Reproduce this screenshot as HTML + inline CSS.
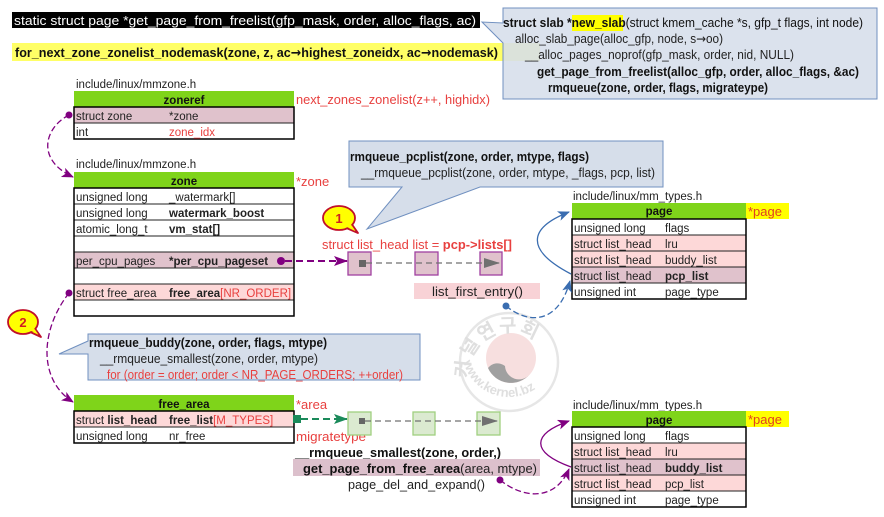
<!DOCTYPE html>
<html><head><meta charset="utf-8">
<style>
html,body{margin:0;padding:0;background:#fff;}
svg{display:block;font-family:"Liberation Sans","Noto Sans CJK KR",sans-serif;}
</style></head>
<body>
<svg width="884" height="517" viewBox="0 0 884 517" xmlns="http://www.w3.org/2000/svg">
<defs>
<marker id="ap" markerWidth="12" markerHeight="10" refX="11" refY="5" orient="auto" markerUnits="userSpaceOnUse"><path d="M0,0 L12,5 L0,10 L3,5 Z" fill="#800080"/></marker>
<marker id="ab" markerWidth="12" markerHeight="10" refX="11" refY="5" orient="auto" markerUnits="userSpaceOnUse"><path d="M0,0 L12,5 L0,10 L3,5 Z" fill="#3a6db0"/></marker>
<marker id="ag" markerWidth="14" markerHeight="10" refX="13" refY="5" orient="auto" markerUnits="userSpaceOnUse"><path d="M0,0 L14,5 L0,10 L3,5 Z" fill="#1a8a5a"/></marker>
<marker id="ay" markerWidth="16" markerHeight="10" refX="15" refY="5" orient="auto" markerUnits="userSpaceOnUse"><path d="M0,0 L16,5 L0,10 Z" fill="#707070"/></marker>
<marker id="ap2" markerWidth="14" markerHeight="10" refX="13" refY="5" orient="auto" markerUnits="userSpaceOnUse"><path d="M0,0 L14,5 L0,10 L3,5 Z" fill="#800080"/></marker>
<path id="wmTop" d="M 470,382 A 41 41 0 1 1 550,382"/>
<path id="wmBot" d="M 462,350 A 47 47 0 0 0 556,350"/>
</defs>

<!-- watermark -->
<g opacity="0.5">
<circle cx="509" cy="362" r="49" fill="none" stroke="#cfcfcf" stroke-width="2.5"/>
<circle cx="511" cy="358" r="25" fill="#f0c0c0"/>
<path d="M488,368 A25,25 0 0 0 530,374 A14,14 0 0 1 505,366 A12,12 0 0 0 488,368 Z" fill="#444"/>
<text font-size="19" font-weight="bold" fill="#c0c0c0" letter-spacing="2"><textPath href="#wmTop" startOffset="4">커널연구회</textPath></text>
<text font-size="13" font-weight="bold" fill="#c0c0c0"><textPath href="#wmBot" startOffset="12">www.kernel.bz</textPath></text>
</g>

<!-- top black bar -->
<rect x="12" y="12" width="468" height="16" fill="#000"/>
<text x="14" y="25" font-size="13" fill="#fff" textLength="462" lengthAdjust="spacingAndGlyphs">static struct page *get_page_from_freelist(gfp_mask, order, alloc_flags, ac)</text>

<!-- yellow bar -->
<rect x="12" y="43" width="528" height="18" fill="#ffff66"/>
<text x="15" y="57" font-size="13" font-weight="bold" fill="#111" textLength="483" lengthAdjust="spacingAndGlyphs">for_next_zone_zonelist_nodemask(zone, z, ac<tspan font-family="DejaVu Sans">→</tspan>highest_zoneidx, ac<tspan font-family="DejaVu Sans">→</tspan>nodemask)</text>

<!-- top-right callout -->
<path d="M503,8 H877 V99 H503 V43 L482,22 L503,23 Z" fill="#d6deea" fill-opacity="0.88" stroke="#7090c0" stroke-width="1"/>
<rect x="572" y="15" width="51" height="16" fill="#ffff00"/>
<text x="503" y="27" font-size="12.5" fill="#111" textLength="360" lengthAdjust="spacingAndGlyphs"><tspan font-weight="bold">struct slab *new_slab</tspan>(struct kmem_cache *s, gfp_t flags, int node)</text>
<text x="515" y="43" font-size="12.5" fill="#222" textLength="208" lengthAdjust="spacingAndGlyphs">alloc_slab_page(alloc_gfp, node, s<tspan font-family="DejaVu Sans">→</tspan>oo)</text>
<text x="525" y="59" font-size="12.5" fill="#222" textLength="269" lengthAdjust="spacingAndGlyphs">__alloc_pages_noprof(gfp_mask, order, nid, NULL)</text>
<text x="537" y="76" font-size="12.5" font-weight="bold" fill="#111" textLength="322" lengthAdjust="spacingAndGlyphs">get_page_from_freelist(alloc_gfp, order, alloc_flags, &amp;ac)</text>
<text x="548" y="92" font-size="12.5" font-weight="bold" fill="#111" textLength="220" lengthAdjust="spacingAndGlyphs">rmqueue(zone, order, flags, migrateype)</text>

<!-- zoneref table -->
<text x="76" y="88" font-size="11.5" fill="#222">include/linux/mmzone.h</text>
<rect x="74" y="91" width="220" height="16" fill="#7fd41a"/>
<text x="184" y="104" font-size="11.5" font-weight="bold" fill="#111" text-anchor="middle">zoneref</text>
<rect x="74" y="107" width="220" height="16" fill="#e0c2cc" stroke="#222" stroke-width="1"/>
<rect x="74" y="123" width="220" height="16" fill="#fff" stroke="#222" stroke-width="1"/>
<rect x="74" y="107" width="220" height="32" fill="none" stroke="#000" stroke-width="1.5"/>
<text x="76" y="120" font-size="11.5" fill="#222">struct zone</text><text x="169" y="120" font-size="11.5" fill="#222">*zone</text>
<text x="76" y="136" font-size="11.5" fill="#222">int</text><text x="169" y="136" font-size="11.5" fill="#e8403f">zone_idx</text>
<text x="296" y="104" font-size="12.5" fill="#e8403f" textLength="194" lengthAdjust="spacingAndGlyphs">next_zones_zonelist(z++, highidx)</text>

<!-- zone table -->
<text x="76" y="168" font-size="11.5" fill="#222">include/linux/mmzone.h</text>
<rect x="74" y="172" width="220" height="16" fill="#7fd41a"/>
<text x="184" y="185" font-size="11.5" font-weight="bold" fill="#111" text-anchor="middle">zone</text>
<text x="296" y="186" font-size="13" fill="#e8403f">*zone</text>
<rect x="74" y="188" width="220" height="16" fill="#fff" stroke="#222"/>
<rect x="74" y="204" width="220" height="16" fill="#fff" stroke="#222"/>
<rect x="74" y="220" width="220" height="16" fill="#fff" stroke="#222"/>
<rect x="74" y="236" width="220" height="16" fill="#fff" stroke="#222"/>
<rect x="74" y="252" width="220" height="16" fill="#e0c2cc" stroke="#222"/>
<rect x="74" y="268" width="220" height="16" fill="#fff" stroke="#222"/>
<rect x="74" y="284" width="220" height="16" fill="#fdd8d8" stroke="#222"/>
<rect x="74" y="300" width="220" height="16" fill="#fff" stroke="#222"/>
<rect x="74" y="188" width="220" height="128" fill="none" stroke="#000" stroke-width="1.5"/>
<g font-size="11.5" fill="#222">
<text x="76" y="201">unsigned long</text><text x="169" y="201">_watermark[]</text>
<text x="76" y="217">unsigned long</text><text x="169" y="217" font-weight="bold">watermark_boost</text>
<text x="76" y="233">atomic_long_t</text><text x="169" y="233" font-weight="bold">vm_stat[]</text>
<text x="76" y="265">per_cpu_pages</text><text x="169" y="265" font-weight="bold">*per_cpu_pageset</text>
<text x="76" y="297">struct free_area</text><text x="169" y="297"><tspan font-weight="bold">free_area</tspan><tspan fill="#e8403f">[NR_ORDER]</tspan></text>
</g>

<!-- zoneref -> zone connector -->
<circle cx="69" cy="115" r="3.5" fill="#800080"/>
<path d="M69,115 C44,128 36,160 73,177" fill="none" stroke="#800080" stroke-width="1.3" stroke-dasharray="6,3" marker-end="url(#ap)"/>
<!-- free_area connector -->
<circle cx="69" cy="293" r="3.5" fill="#800080"/>
<path d="M69,293 C40,330 38,380 73,402" fill="none" stroke="#800080" stroke-width="1.3" stroke-dasharray="6,3" marker-end="url(#ap)"/>

<!-- callout 2 -->
<path d="M28,331 L41,337 L34,327 Z" fill="#ffff00" stroke="#c0102a" stroke-width="1.8" stroke-linejoin="round"/>
<ellipse cx="23" cy="322" rx="15" ry="12" fill="#ffff00" stroke="#c0102a" stroke-width="1.8"/>
<path d="M29,330 L38,334 L33,327 Z" fill="#ffff00"/>
<text x="23" y="327" font-size="13" font-weight="bold" fill="#d02020" text-anchor="middle">2</text>

<!-- callout 1 -->
<path d="M344,227 L358,233 L351,223 Z" fill="#ffff00" stroke="#c0102a" stroke-width="1.8" stroke-linejoin="round"/>
<ellipse cx="339" cy="218" rx="16" ry="12" fill="#ffff00" stroke="#c0102a" stroke-width="1.8"/>
<path d="M345,226 L355,231 L350,223 Z" fill="#ffff00"/>
<text x="339" y="223" font-size="13" font-weight="bold" fill="#d02020" text-anchor="middle">1</text>

<!-- pcplist callout -->
<path d="M349,141 H663 V187 H480 L367,229 L402,187 H349 Z" fill="#d6deea" stroke="#7090c0" stroke-width="1"/>
<text x="350" y="161" font-size="12.5" font-weight="bold" fill="#111" textLength="239" lengthAdjust="spacingAndGlyphs">rmqueue_pcplist(zone, order, mtype, flags)</text>
<text x="361" y="177" font-size="12.5" fill="#222" textLength="294" lengthAdjust="spacingAndGlyphs">__rmqueue_pcplist(zone, order, mtype, _flags, pcp, list)</text>

<!-- list head -->
<text x="322" y="249" font-size="12.5" fill="#e8403f" textLength="190" lengthAdjust="spacingAndGlyphs">struct list_head list = <tspan font-weight="bold">pcp-&gt;lists[]</tspan></text>
<rect x="348" y="252" width="23" height="23" fill="#e0c2cc" stroke="#a040a0" stroke-width="1.3"/>
<rect x="415" y="252" width="23" height="23" fill="#e0c2cc" stroke="#a040a0" stroke-width="1.3"/>
<rect x="480" y="252" width="22" height="23" fill="#e0c2cc" stroke="#a040a0" stroke-width="1.3"/>
<rect x="359" y="260" width="7" height="7" fill="#666"/>
<path d="M366,263 H499" stroke="#707070" stroke-width="1.3" stroke-dasharray="6,4" marker-end="url(#ay)"/>
<circle cx="281" cy="261" r="4" fill="#800080"/>
<path d="M285,261 H347" stroke="#800080" stroke-width="2" stroke-dasharray="7,4" marker-end="url(#ap2)"/>

<rect x="414" y="283" width="126" height="16" fill="#f8d2d6"/>
<text x="432" y="296" font-size="12.5" fill="#222" textLength="91" lengthAdjust="spacingAndGlyphs">list_first_entry()</text>

<!-- page table top -->
<text x="573" y="200" font-size="11.5" fill="#222">include/linux/mm_types.h</text>
<rect x="572" y="203" width="174" height="16" fill="#7fd41a"/>
<text x="659" y="215" font-size="11.5" font-weight="bold" fill="#111" text-anchor="middle">page</text>
<rect x="746" y="203" width="43" height="16" fill="#ffff00"/>
<text x="748" y="216" font-size="13" fill="#e04020">*page</text>
<rect x="572" y="219" width="174" height="16" fill="#fff" stroke="#222"/>
<rect x="572" y="235" width="174" height="16" fill="#fdd8d8" stroke="#222"/>
<rect x="572" y="251" width="174" height="16" fill="#fdd8d8" stroke="#222"/>
<rect x="572" y="267" width="174" height="16" fill="#e0c2cc" stroke="#222"/>
<rect x="572" y="283" width="174" height="16" fill="#fff" stroke="#222"/>
<rect x="572" y="219" width="174" height="80" fill="none" stroke="#000" stroke-width="1.5"/>
<g font-size="11.5" fill="#222">
<text x="574" y="232">unsigned long</text><text x="665" y="232">flags</text>
<text x="574" y="248">struct list_head</text><text x="665" y="248">lru</text>
<text x="574" y="264">struct list_head</text><text x="665" y="264">buddy_list</text>
<text x="574" y="280">struct list_head</text><text x="665" y="280" font-weight="bold">pcp_list</text>
<text x="574" y="296">unsigned int</text><text x="665" y="296">page_type</text>
</g>

<!-- blue connectors -->
<path d="M571,274 C525,250 528,228 569,212" fill="none" stroke="#3a6db0" stroke-width="1.3" marker-end="url(#ab)"/>
<circle cx="506" cy="306" r="3.5" fill="#3a6db0"/>
<path d="M506,306 C528,324 558,325 570,281" fill="none" stroke="#3a6db0" stroke-width="1.3" stroke-dasharray="6,3" marker-end="url(#ab)"/>

<!-- buddy callout -->
<path d="M88,334 H420 V380 H88 V354 L59,354 L88,341 Z" fill="#d6deea" stroke="#7090c0" stroke-width="1"/>
<text x="89" y="347" font-size="12.5" font-weight="bold" fill="#111" textLength="238" lengthAdjust="spacingAndGlyphs">rmqueue_buddy(zone, order, flags, mtype)</text>
<text x="100" y="363" font-size="12.5" fill="#222" textLength="218" lengthAdjust="spacingAndGlyphs">__rmqueue_smallest(zone, order, mtype)</text>
<text x="107" y="379" font-size="12.5" fill="#e8403f" textLength="296" lengthAdjust="spacingAndGlyphs">for (order = order; order &lt; NR_PAGE_ORDERS; ++order)</text>

<!-- free_area table -->
<rect x="74" y="395" width="220" height="16" fill="#7fd41a"/>
<text x="184" y="408" font-size="11.5" font-weight="bold" fill="#111" text-anchor="middle">free_area</text>
<rect x="74" y="411" width="220" height="16" fill="#fdd8d8" stroke="#222"/>
<rect x="74" y="427" width="220" height="16" fill="#fff" stroke="#222"/>
<rect x="74" y="411" width="220" height="32" fill="none" stroke="#000" stroke-width="1.5"/>
<g font-size="11.5" fill="#222">
<text x="76" y="424">struct <tspan font-weight="bold">list_head</tspan></text><text x="169" y="424"><tspan font-weight="bold">free_list</tspan><tspan fill="#e8403f">[M_TYPES]</tspan></text>
<text x="76" y="440">unsigned long</text><text x="169" y="440">nr_free</text>
</g>
<text x="296" y="409" font-size="13" fill="#e8403f">*area</text>
<text x="296" y="441" font-size="12.5" fill="#e8403f" textLength="70" lengthAdjust="spacingAndGlyphs">migratetype</text>

<!-- green list -->
<rect x="293" y="415" width="8" height="8" fill="#1a8a5a"/>
<path d="M301,419 H347" stroke="#1a8a5a" stroke-width="2" stroke-dasharray="7,4" marker-end="url(#ag)"/>
<rect x="348" y="412" width="23" height="23" fill="#dbead0" stroke="#a0d080" stroke-width="1.3"/>
<rect x="413" y="412" width="22" height="23" fill="#dbead0" stroke="#a0d080" stroke-width="1.3"/>
<rect x="477" y="412" width="23" height="23" fill="#dbead0" stroke="#a0d080" stroke-width="1.3"/>
<rect x="359" y="418" width="6" height="6" fill="#666"/>
<path d="M365,421 H497" stroke="#707070" stroke-width="1.3" stroke-dasharray="6,4" marker-end="url(#ay)"/>

<text x="295" y="457" font-size="12.5" font-weight="bold" fill="#111" textLength="206" lengthAdjust="spacingAndGlyphs">__rmqueue_smallest(zone, order,)</text>
<rect x="293" y="459" width="247" height="17" fill="#dcc0cc"/>
<text x="303" y="473" font-size="12.5" fill="#222" textLength="234" lengthAdjust="spacingAndGlyphs"><tspan font-weight="bold" fill="#111">get_page_from_free_area</tspan>(area, mtype)</text>
<text x="348" y="489" font-size="12.5" fill="#222" textLength="137" lengthAdjust="spacingAndGlyphs">page_del_and_expand()</text>

<!-- page table bottom -->
<text x="573" y="409" font-size="11.5" fill="#222">include/linux/mm_types.h</text>
<rect x="572" y="411" width="174" height="16" fill="#7fd41a"/>
<text x="659" y="424" font-size="11.5" font-weight="bold" fill="#111" text-anchor="middle">page</text>
<rect x="746" y="411" width="43" height="16" fill="#ffff00"/>
<text x="748" y="424" font-size="13" fill="#e04020">*page</text>
<rect x="572" y="427" width="174" height="16" fill="#fff" stroke="#222"/>
<rect x="572" y="443" width="174" height="16" fill="#fdd8d8" stroke="#222"/>
<rect x="572" y="459" width="174" height="16" fill="#e0c2cc" stroke="#222"/>
<rect x="572" y="475" width="174" height="16" fill="#fdd8d8" stroke="#222"/>
<rect x="572" y="491" width="174" height="16" fill="#fff" stroke="#222"/>
<rect x="572" y="427" width="174" height="80" fill="none" stroke="#000" stroke-width="1.5"/>
<g font-size="11.5" fill="#222">
<text x="574" y="440">unsigned long</text><text x="665" y="440">flags</text>
<text x="574" y="456">struct list_head</text><text x="665" y="456">lru</text>
<text x="574" y="472">struct list_head</text><text x="665" y="472" font-weight="bold">buddy_list</text>
<text x="574" y="488">struct list_head</text><text x="665" y="488">pcp_list</text>
<text x="574" y="504">unsigned int</text><text x="665" y="504">page_type</text>
</g>

<!-- purple connectors bottom -->
<path d="M571,467 C530,452 532,434 569,421" fill="none" stroke="#800080" stroke-width="1.3" marker-end="url(#ap)"/>
<circle cx="500" cy="480" r="3.5" fill="#800080"/>
<path d="M500,480 C525,500 556,500 569,469" fill="none" stroke="#800080" stroke-width="1.3" stroke-dasharray="6,3" marker-end="url(#ap)"/>
</svg>
</body></html>
